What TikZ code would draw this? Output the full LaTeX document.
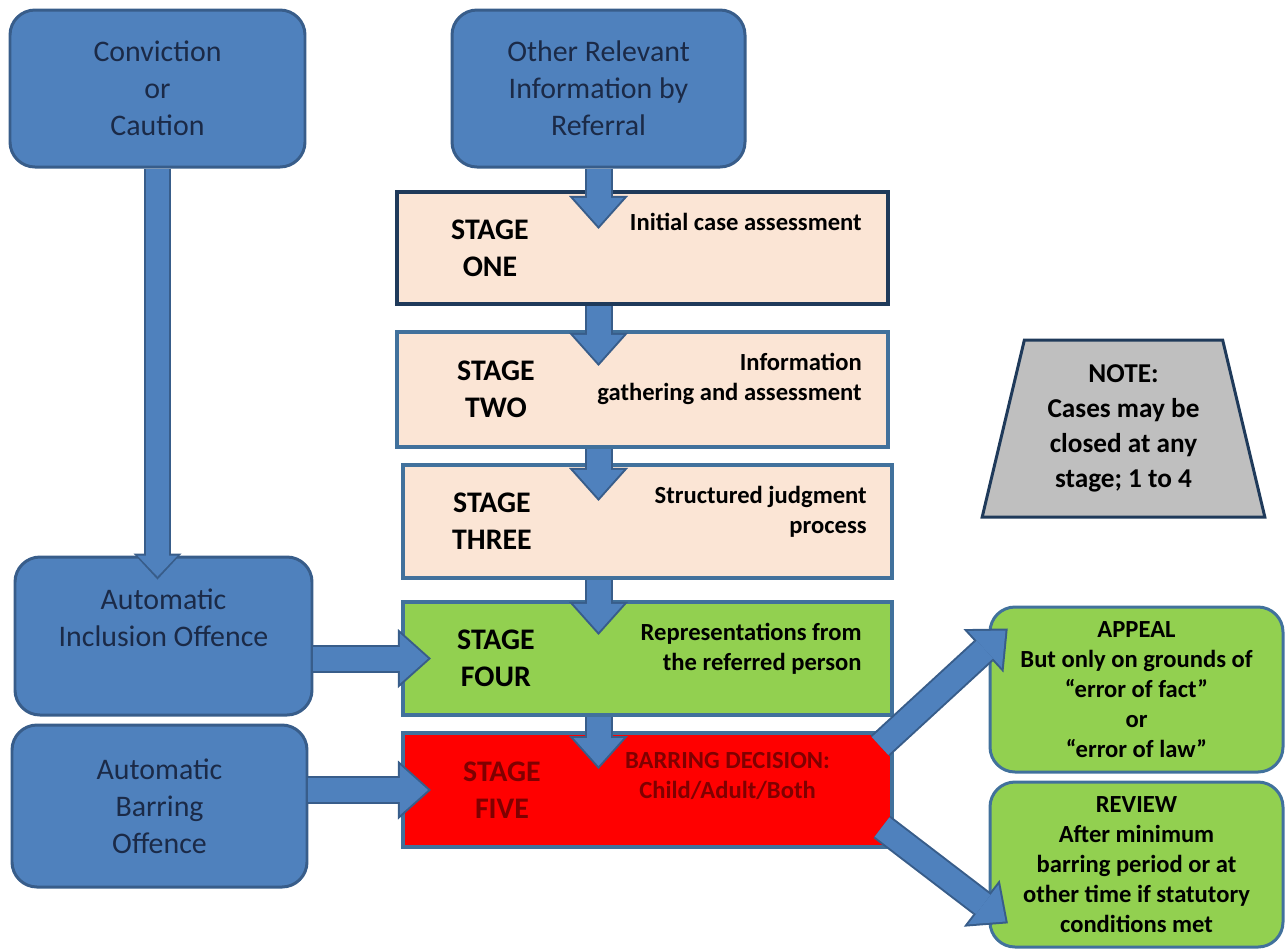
\documentclass[tikz,border=0pt]{standalone}
\usepackage{fontspec}
\setmainfont{Carlito}
\usepackage{tikz}
\usetikzlibrary{arrows.meta,calc,positioning,shapes.geometric}
\definecolor{boxblue}{HTML}{4F81BD}
\definecolor{boxedge}{HTML}{385D8A}
\definecolor{boxtext}{HTML}{1B2A47}
\definecolor{peach}{HTML}{FBE5D5}
\definecolor{stageedge}{HTML}{41719C}
\definecolor{darkedge}{HTML}{1F3A5A}
\definecolor{okgreen}{HTML}{92D050}
\definecolor{barred}{HTML}{FF0000}
\definecolor{redtext}{HTML}{7F0000}
\definecolor{notegray}{HTML}{BFBFBF}
\tikzset{%
	source/.style     = {draw=boxedge, fill=boxblue, line width=1.7pt, rounded corners=0.5cm, minimum width=5.9cm, minimum height=3.14cm, align=center, text=boxtext, font=\fontsize{17}{21}\selectfont},
	stagebox/.style   = {draw=stageedge, line width=2.3pt, minimum width=9.78cm, minimum height=2.26cm},
	stagelbl/.style   = {align=center, font=\bfseries\fontsize{17}{21}\selectfont},
	stagetxt/.style   = {align=right, anchor=north east, inner sep=0pt, font=\bfseries\fontsize{14}{17}\selectfont},
	outcome/.style    = {draw=stageedge, fill=okgreen, line width=1.7pt, rounded corners=0.5cm, minimum width=5.86cm, minimum height=3.3cm, align=center, font=\bfseries\fontsize{14}{17}\selectfont},
	note/.style       = {draw=darkedge, fill=notegray, line width=1.7pt, trapezium, trapezium left angle=76, trapezium right angle=76, trapezium stretches=true, minimum width=5.66cm, minimum height=3.54cm, align=center, font=\bfseries\fontsize{15.5}{20}\selectfont},
	blockarrow/.style = {preaction={draw=boxedge, line width=0.56cm, shorten >=-0.06cm, -{Triangle[width=1.18cm,length=0.66cm,line width=0pt]}},
		draw=boxblue, line width=0.48cm, -{Triangle[width=1cm,length=0.56cm,line width=0pt]}},
	smallarrow/.style = {preaction={draw=boxedge, line width=0.54cm, shorten >=-0.06cm, -{Triangle[width=0.96cm,length=0.52cm,line width=0pt]}},
		draw=boxblue, line width=0.46cm, -{Triangle[width=0.8cm,length=0.42cm,line width=0pt]}},
}

\begin{document}
\begin{tikzpicture}
	\useasboundingbox (0,0) rectangle (25.7,-18.98);
	
	\node[source] (conv) at (3.15,-1.77) {Conviction\\or\\Caution};
	\node[source, minimum width=5.86cm] (other) at (11.97,-1.77) {Other Relevant\\Information by\\Referral};
	\node[source, minimum width=5.94cm, minimum height=3.16cm] (incl) at (3.27,-12.72) {Automatic\\Inclusion Offence\\\mbox{}};
	\node[source, minimum height=3.24cm] (barr) at (3.19,-16.12) {Automatic\\Barring\\Offence};
	
	\node[stagebox, draw=darkedge, fill=peach, minimum width=9.82cm, minimum height=2.24cm] (one) at (12.85,-4.96) {};
	\node[stagebox, fill=peach, minimum width=9.82cm, minimum height=2.3cm] (two) at (12.85,-7.79) {};
	\node[stagebox, fill=peach] (three) at (12.95,-10.43) {};
	\node[stagebox, fill=okgreen] (four) at (12.95,-13.17) {};
	\node[stagebox, fill=barred, minimum height=2.28cm] (five) at (12.95,-15.8) {};
	
	\node[stagelbl] (one-l) at ([xshift=1.9cm]one.west) {STAGE\\ONE};
	\node[stagelbl] (two-l) at ([xshift=2.02cm]two.west) {STAGE\\TWO};
	\node[stagelbl] (three-l) at ([xshift=1.82cm]three.west) {STAGE\\THREE};
	\node[stagelbl] (four-l) at ([xshift=1.9cm]four.west) {STAGE\\FOUR};
	\node[stagelbl, text=redtext] (five-l) at ([xshift=2.02cm]five.west) {STAGE\\FIVE};
	
	\node[stagetxt] (one-t) at ([xshift=-0.56cm,yshift=-0.46cm]one.north east) {Initial case assessment};
	\node[stagetxt] (two-t) at ([xshift=-0.56cm,yshift=-0.46cm]two.north east) {Information\\gathering and assessment};
	\node[stagetxt] (three-t) at ([xshift=-0.54cm,yshift=-0.46cm]three.north east) {Structured judgment\\process};
	\node[stagetxt] (four-t) at ([xshift=-0.64cm,yshift=-0.46cm]four.north east) {Representations from\\the referred person};
	\node[stagetxt, anchor=north, align=center, text=redtext] (five-t) at ([xshift=1.6cm,yshift=-0.42cm]five.north) {BARRING DECISION:\\Child/Adult/Both};
	
	\node[note] (note) at (22.47,-8.57) {NOTE:\\Cases may be\\closed at any\\stage; 1 to 4};
	\node[outcome] (appeal) at (22.73,-13.79) {APPEAL\\But only on grounds of\\“error of fact”\\or\\“error of law”};
	\node[outcome] (review) at (22.73,-17.29) {REVIEW\\After minimum\\barring period or at\\other time if statutory\\conditions met};
	
	\draw[blockarrow] (other.south) -- ($(other.south |- one.north)+(0,-0.72)$);
	\draw[blockarrow] (other.south |- one.south) -- ($(other.south |- two.north)+(0,-0.66)$);
	\draw[blockarrow] (other.south |- two.south) -- ($(other.south |- three.north)+(0,-0.7)$);
	\draw[blockarrow] (other.south |- three.south) -- ($(other.south |- four.north)+(0,-0.64)$);
	\draw[blockarrow] (other.south |- four.south) -- ($(other.south |- five.north)+(0,-0.7)$);
	\draw[smallarrow] (conv.south) -- ($(conv.south |- incl.north)+(0,-0.42)$);
	\draw[blockarrow] (incl.east |- four.west) -- ([xshift=0.54cm]four.west);
	\draw[blockarrow] (barr.east |- five.west) -- ([xshift=0.54cm]five.west);
	\draw[blockarrow] ([shift={(-0.28,-0.3)}]five.north east) -- ([shift={(0.34,-0.5)}]appeal.north west);
	\draw[blockarrow] ([shift={(-0.24,0.44)}]five.south east) -- ([shift={(0.34,0.54)}]review.south west);
\end{tikzpicture}
\end{document}
